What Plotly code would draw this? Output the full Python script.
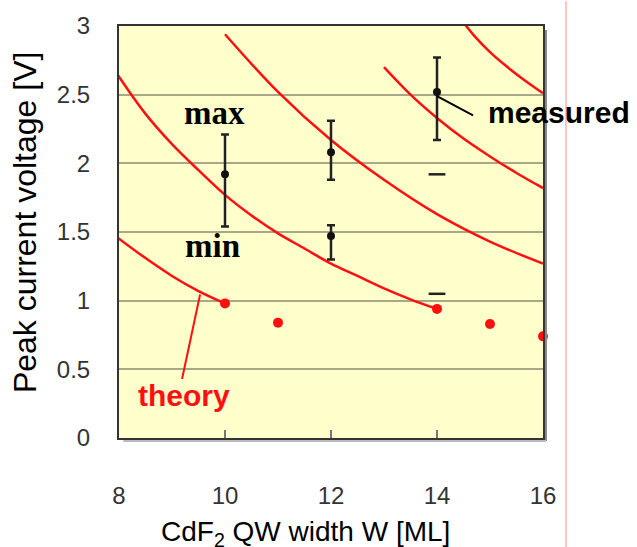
import plotly.graph_objects as go

# ---- data ----
# theory curves (red lines)
curve_a_x = [7.9, 8.5, 9.0, 9.5, 10.0]
curve_a_y = [1.48, 1.31, 1.18, 1.07, 0.98]
curve_b_x = [7.9, 8.0, 8.5, 9.0, 9.5, 10.0, 10.5, 11.0, 11.5, 12.0, 12.5, 13.0, 13.5, 14.0]
curve_b_y = [2.69, 2.63, 2.36, 2.14, 1.95, 1.77, 1.62, 1.49, 1.38, 1.27, 1.18, 1.09, 1.01, 0.94]
curve_c_x = [10.0, 11.0, 12.0, 13.0, 14.0, 15.0, 16.0]
curve_c_y = [2.94, 2.52, 2.17, 1.88, 1.63, 1.43, 1.27]
curve_d_x = [13.0, 13.5, 14.0, 14.5, 15.0, 15.5, 16.0]
curve_d_y = [2.70, 2.50, 2.33, 2.18, 2.05, 1.93, 1.82]
curve_e_x = [14.45, 14.7, 15.0, 15.3, 15.6, 16.0]
curve_e_y = [3.05, 2.93, 2.81, 2.71, 2.62, 2.51]

# theory points (red dots)
theory_x = [10, 11, 14, 15, 16]
theory_y = [0.98, 0.84, 0.94, 0.83, 0.74]

# measured points with error bars
meas_x = [10, 12, 12, 14]
meas_y = [1.92, 2.08, 1.47, 2.52]
meas_up = [2.21, 2.31, 1.55, 2.77]
meas_lo = [1.54, 1.88, 1.30, 2.17]

# measured dashes without point
dash_x = [14, 14]
dash_y = [1.92, 1.05]

x_ticks = [8, 10, 12, 14, 16]
y_ticks = [0, 0.5, 1, 1.5, 2, 2.5, 3]

RED = "#FF1010"
fig = go.Figure()

for cx, cy in [(curve_a_x, curve_a_y), (curve_b_x, curve_b_y), (curve_c_x, curve_c_y),
               (curve_d_x, curve_d_y), (curve_e_x, curve_e_y)]:
    fig.add_trace(go.Scatter(x=cx, y=cy, mode="lines", line=dict(color=RED, width=2.5, shape="spline"),
                             cliponaxis=False, showlegend=False, hoverinfo="skip"))

fig.add_trace(go.Scatter(x=theory_x, y=theory_y, mode="markers",
                         marker=dict(color=RED, size=10), cliponaxis=False, showlegend=False))

fig.add_trace(go.Scatter(
    x=meas_x, y=meas_y, mode="markers",
    marker=dict(color="#111111", size=8),
    error_y=dict(type="data", symmetric=False,
                 array=[u - m for u, m in zip(meas_up, meas_y)],
                 arrayminus=[m - l for l, m in zip(meas_lo, meas_y)],
                 color="#222222", thickness=2.5, width=4),
    showlegend=False))

fig.add_trace(go.Scatter(x=dash_x, y=dash_y, mode="markers",
                         marker=dict(symbol="line-ew", size=12, line=dict(color="#222222", width=2.5)),
                         showlegend=False))

# pointer lines
fig.add_shape(type="line", xref="x", yref="y", x0=14.0, y0=2.49, x1=14.68, y1=2.35,
              line=dict(color="black", width=2))
fig.add_shape(type="line", xref="x", yref="y", x0=9.19, y0=0.43, x1=9.53, y1=1.045,
              line=dict(color=RED, width=2))

# frame shadow
fig.add_shape(type="line", xref="paper", yref="paper", x0=1.007, y0=0.99, x1=1.007, y1=-0.007,
              line=dict(color="#888888", width=2))
fig.add_shape(type="line", xref="paper", yref="paper", x0=0.01, y0=-0.007, x1=1.007, y1=-0.007,
              line=dict(color="#bbbbbb", width=2))
# red vertical line at right
fig.add_shape(type="line", xref="paper", yref="paper", x0=1.0542, y0=1.06, x1=1.0542, y1=-0.27,
              line=dict(color="#FF9C9C", width=1.2))

fig.add_annotation(x=9.81, y=2.37, text="max", showarrow=False, xanchor="center", yanchor="middle",
                   font=dict(family="Liberation Serif", size=33, color="black", weight="bold"))
fig.add_annotation(x=9.77, y=1.40, text="min", showarrow=False, xanchor="center", yanchor="middle",
                   font=dict(family="Liberation Serif", size=33, color="black", weight="bold"))
fig.add_annotation(x=14.92, y=2.37, text="measured", showarrow=False, xanchor="left", yanchor="middle",
                   font=dict(family="Liberation Sans", size=30, color="black", weight="bold"))
fig.add_annotation(x=9.23, y=0.31, text="theory", showarrow=False, xanchor="center", yanchor="middle",
                   font=dict(family="Liberation Sans", size=30, color=RED, weight="bold"))

# axis titles
fig.add_annotation(xref="paper", yref="paper", x=0.4387, y=-0.232, text="CdF<sub>2</sub> QW width W [ML]",
                   showarrow=False, xanchor="center", yanchor="middle",
                   font=dict(family="Liberation Sans", size=28, color="black"))
fig.add_annotation(xref="paper", yref="paper", x=-0.2217, y=0.524, text="Peak current voltage [V]",
                   showarrow=False, xanchor="center", yanchor="middle", textangle=-90,
                   font=dict(family="Liberation Sans", size=32, color="black"))

fig.update_layout(
    width=637, height=547,
    margin=dict(l=119, r=94, t=22, b=109),
    paper_bgcolor="white", plot_bgcolor="#FFFFCC",
    xaxis=dict(range=[8, 16], tickvals=x_ticks, ticks="inside", ticklen=8, tickwidth=1.5,
               tickcolor="#777777", showgrid=False, zeroline=False,
               showline=True, linecolor="#333333", linewidth=2, mirror=True,
               tickfont=dict(family="Liberation Sans", size=24, color="#333333"),
               ticklabelstandoff=35),
    yaxis=dict(range=[0, 3], tickvals=y_ticks, ticks="", showgrid=True, gridcolor="#A8A888",
               gridwidth=1.5, zeroline=False,
               showline=True, linecolor="#333333", linewidth=2, mirror=True,
               tickfont=dict(family="Liberation Sans", size=24, color="#333333"),
               ticklabelstandoff=22),
)

fig.write_html("out.html")
